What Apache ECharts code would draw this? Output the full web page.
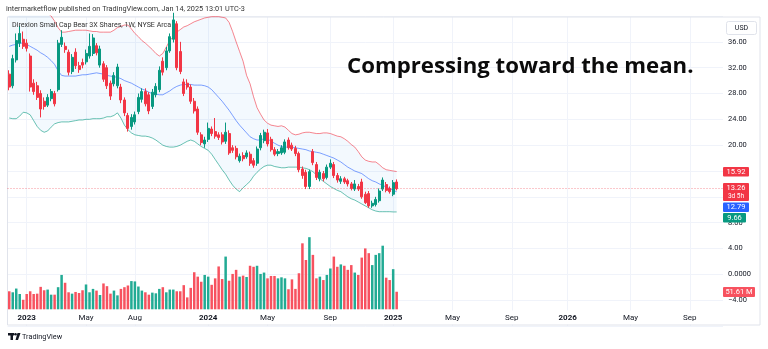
<!DOCTYPE html>
<html>
<head>
<meta charset="utf-8">
<script src="https://cdn.jsdelivr.net/npm/echarts@6/dist/echarts.min.js"></script>
<style>
html,body{margin:0;padding:0;background:#fff;}
#chart{width:768px;height:349px;}
</style>
</head>
<body>
<div id="chart"></div>
<script>
// weekly bars, first bar = week of 2022-11-28, last = week of 2025-01-13
const firstWeek = '2022-11-28'
const slots = 205 // bars + empty space to the right

const opens = [31.0,29.2,33.2,35.8,36.4,35.8,33.8,29.6,29.2,28.0,26.8,26.2,27.2,28.0,28.6,35.6,35.3,34.4,31.4,34.4,
  32.3,32.8,32.9,33.8,34.2,35.4,32.4,32.6,32.0,29.6,29.5,29.2,29.0,27.0,24.6,22.9,23.6,25.2,27.1,28.3,
  27.8,26.0,27.8,28.6,33.0,32.0,34.6,36.4,38.8,34.5,29.8,29.6,29.0,26.8,25.6,21.6,20.2,20.9,22.5,22.1,
  21.6,21.6,20.6,21.8,19.6,19.5,17.6,18.4,18.2,18.6,17.6,17.2,19.6,20.7,21.9,20.9,19.3,18.7,18.8,18.9,
  20.8,20.0,19.5,18.7,16.3,15.8,13.6,19.0,17.0,14.8,15.6,15.0,16.6,17.0,15.3,14.4,14.8,14.5,14.0,13.2,
  13.6,14.3,12.4,12.5,10.6,10.8,11.4,13.2,13.9,13.3,12.4,14.3]
const closes = [29.0,33.4,36.2,37.3,35.3,35.0,29.0,28.3,27.4,25.6,26.0,27.4,28.3,26.4,35.8,36.7,34.8,31.3,33.6,32.3,
  31.7,32.4,34.2,35.3,36.6,34.3,34.9,30.2,29.2,27.6,30.8,32.1,27.0,25.0,22.6,24.3,24.7,27.4,28.3,26.4,
  25.3,28.2,29.1,31.6,31.3,34.6,36.8,39.4,32.0,31.4,28.0,29.0,26.8,25.3,22.0,20.4,20.8,22.6,21.8,21.4,
  21.2,20.5,22.0,18.8,19.2,18.2,18.3,17.9,18.8,17.2,16.9,19.4,21.5,22.0,20.2,19.3,18.6,19.0,19.6,20.5,
  19.6,19.4,18.7,16.2,15.3,13.6,15.9,17.3,15.0,15.8,14.8,16.6,17.2,15.3,14.6,14.8,14.3,14.0,13.3,14.0,
  13.2,12.0,11.1,10.6,11.0,11.6,12.9,14.6,13.0,12.8,14.2,13.26]
const lows = [28.5,28.8,32.8,35.2,34.9,34.5,28.3,27.8,27.0,24.3,25.5,25.9,26.8,26.0,28.3,35.2,34.3,30.8,31.0,31.8,
  31.2,31.9,32.5,33.4,33.8,33.9,32.0,29.8,28.7,27.0,29.1,28.8,26.5,24.5,22.1,22.4,23.2,24.8,26.6,26.0,
  24.8,25.6,27.4,28.2,30.8,31.6,34.3,35.9,31.6,31.0,27.6,28.6,26.4,24.9,21.6,20.0,19.6,20.5,21.4,21.0,
  20.8,20.1,20.2,18.5,18.8,17.8,17.3,17.5,17.9,16.8,16.5,16.8,19.2,20.3,19.8,19.0,18.3,18.3,18.5,18.6,
  19.3,19.1,18.3,15.8,14.8,13.2,13.2,16.9,14.6,14.4,14.4,14.7,16.3,14.9,14.2,14.0,14.0,13.6,13.0,12.9,
  12.9,11.7,10.9,10.3,10.3,10.5,11.1,12.9,12.7,12.5,12.1,13.0]
const highs = [31.6,34.0,37.3,38.5,37.6,36.4,34.2,30.2,29.8,28.5,27.4,27.9,28.7,28.4,36.3,37.8,35.9,34.8,34.1,35.0,
  32.9,33.4,34.8,37.3,37.2,35.8,35.4,33.0,32.4,30.0,31.3,32.6,29.5,27.4,25.0,24.8,25.2,28.0,28.8,28.8,
  28.2,28.7,29.6,32.2,33.6,35.2,37.3,40.5,39.2,36.0,30.3,30.2,29.4,27.3,26.0,22.0,21.3,23.5,22.9,24.2,
  22.0,22.0,23.5,22.3,20.0,19.9,18.7,18.9,19.2,19.0,18.0,19.8,21.9,22.4,22.5,21.3,19.7,19.4,20.0,20.9,
  21.2,20.4,19.9,19.0,16.7,16.2,16.2,19.4,17.4,16.2,16.0,17.0,17.8,17.4,15.7,15.2,15.1,14.8,14.3,14.6,
  14.0,14.8,12.8,12.9,11.4,12.0,13.3,15.0,14.3,13.6,14.6,14.7]
// volume, millions of shares
const volumes = [53,50,61,45,28,45,53,45,46,66,56,58,43,43,65,101,78,50,46,51,
  48,56,73,50,60,55,42,76,68,46,55,41,60,65,70,83,82,67,55,50,
  43,49,47,60,65,50,58,58,53,53,71,35,63,109,96,81,101,96,72,91,
  126,89,155,84,104,116,96,99,95,128,125,128,104,108,91,98,98,91,94,91,
  59,88,60,106,194,145,212,160,91,96,86,101,120,155,125,132,128,116,130,108,
  101,152,179,165,130,160,165,187,93,86,118,51.61]
// Bollinger Bands (20, 2)
const bbUpper = [44,44,44,43.8,43.5,43,42.7,42.3,41.8,41.3,40.8,40.4,40.0,39.2,38.2,37.5,37.5,37.6,37.7,37.8,
  37.8,37.8,37.8,37.7,37.6,37.6,37.5,37.5,37.5,37.5,37.8,38.2,38.4,38.6,38.6,38.0,37.3,36.8,36.2,35.8,
  35.3,34.8,34.2,33.8,34.2,35.2,36.2,36.8,37.5,37.9,38.3,38.5,38.8,39.1,39.3,39.5,39.7,39.8,39.9,39.9,
  39.9,39.8,39.7,39.0,37.6,36.0,34.5,33.0,30.8,29.5,27.5,25.8,24.8,23.9,23.4,23.1,23.0,22.9,23.0,22.8,
  22.3,21.8,21.6,21.7,21.9,22.0,22.0,21.9,21.8,21.8,21.9,21.9,21.8,21.6,21.4,21.3,21.0,20.6,20.1,19.7,
  19.0,18.2,17.7,17.5,17.4,17.4,17.0,16.5,16.2,16.1,16.0,15.92]
const bbBasis = [35.3,35.5,35.6,35.8,35.8,35.6,35.3,35.0,34.7,34.3,34.0,33.6,33.1,32.5,31.5,30.8,30.7,30.7,30.7,30.7,
  30.8,30.9,30.9,31.0,31.1,31.2,31.1,31.0,30.8,30.7,30.6,30.5,30.3,30.0,29.8,29.6,29.3,29.0,28.7,28.5,
  28.2,28.0,27.9,27.8,27.8,28.1,28.4,28.8,29.1,29.3,29.4,29.4,29.4,29.3,29.3,29.3,29.2,29.0,28.6,28.0,
  27.4,26.8,26.1,25.4,24.6,23.8,23.1,22.5,21.9,21.3,21.0,20.8,20.8,21.0,21.0,20.6,20.3,20.0,19.8,19.7,
  19.7,19.7,19.6,19.5,19.4,19.3,19.1,19.0,18.9,18.8,18.6,18.4,18.2,18.0,17.7,17.4,17.0,16.6,16.3,16.0,
  15.8,15.6,15.2,14.8,14.5,14.3,14.0,13.8,13.5,13.3,13.0,12.79]
const bbLower = [24.2,24.1,24.1,24.5,25.1,25.0,24.7,23.8,22.9,22.3,22.0,22.2,22.8,23.3,23.5,23.6,23.6,23.6,23.7,23.8,
  23.9,23.9,24.0,24.0,24.1,24.1,24.1,24.2,24.4,24.4,24.6,25.0,24.2,23.1,22.4,21.9,21.6,21.5,21.4,21.4,
  21.3,21.1,20.8,20.4,20.0,19.8,19.7,19.7,19.8,20.0,20.3,20.6,20.8,20.6,20.2,19.8,19.5,19.2,18.6,17.8,
  17.0,16.2,15.5,14.6,13.8,13.2,12.8,13.4,13.9,14.4,15.2,15.8,16.3,16.7,16.9,16.9,16.7,16.6,16.5,16.5,
  16.6,16.6,16.6,16.6,16.5,16.4,16.2,15.9,15.4,14.8,14.4,14.0,13.6,13.3,13.0,12.8,12.4,12.0,11.7,11.5,
  11.2,10.9,10.6,10.3,10.0,9.8,9.7,9.7,9.7,9.7,9.66,9.66]

// time axis labels (index into the weekly slots)
const tickIdx = [5, 22, 36, 57, 74, 92, 110, 127, 144, 160, 178, 195]
const tickText = ['2023', 'May', 'Aug', '2024', 'May', 'Sep', '2025', 'May', 'Sep', '2026', 'May', 'Sep']

const UP = '#089981'
const DOWN = '#f23645'

const cats = []
const t0 = Date.parse(firstWeek + 'T00:00:00Z')
for (let i = 0; i < slots; i++) {
  cats.push(new Date(t0 + i * 7 * 86400000).toISOString().slice(0, 10))
}

const candles = opens.map((o, i) => [o, closes[i], lows[i], highs[i]])
const volData = volumes.map((v, i) => ({
  value: v,
  itemStyle: { color: closes[i] >= opens[i] ? '#22ab94' : '#f7525f' }
}))
const bandSpan = bbUpper.map((u, i) => +(u - bbLower[i]).toFixed(3))

const isTick = idx => tickIdx.indexOf(idx) >= 0
const FONT = 'Roboto, "Noto Sans", sans-serif'

const chart = echarts.init(document.getElementById('chart'))

function priceLabel (v) {
  if (v === 0) return '0.0000'
  if (v === 40 || v === -8 || v === 16 || v === 12) return ''
  return (v < 0 ? '\u2212' + (-v).toFixed(2) : v.toFixed(2))
}

function box (x, y, w, h, fill, lines) {
  const els = [{
    type: 'rect', z: 100,
    shape: { x: x, y: y, width: w, height: h, r: 1 },
    style: { fill: fill }
  }]
  lines.forEach(l => {
    els.push({
      type: 'text', z: 101,
      style: {
        x: x + w / 2, y: l.y, text: l.text, fill: '#fff',
        font: (l.size || 7.5) + 'px ' + FONT, align: 'center', verticalAlign: 'middle'
      }
    })
  })
  return els
}

chart.setOption({
  animation: false,
  backgroundColor: '#ffffff',
  grid: [
    { left: 7.5, right: 45, top: 16, height: 310 },
    { left: 7.5, right: 45, top: 209.3, height: 100 }
  ],
  xAxis: [
    {
      type: 'category', gridIndex: 0, data: cats,
      axisLine: { show: false }, axisTick: { show: false }, axisLabel: { show: false },
      splitLine: { show: true, interval: isTick, alignWithLabel: true, lineStyle: { color: '#f0f3fa', width: 1 } }
    },
    {
      type: 'category', gridIndex: 1, data: cats, z: 10,
      axisLine: { show: false }, axisTick: { show: false },
      axisLabel: {
        interval: isTick, margin: 5, color: '#131722', fontSize: 8, fontFamily: FONT,
        formatter: (val, idx) => {
          const t = tickText[tickIdx.indexOf(idx)] || ''
          return /^\d{4}$/.test(t) ? '{y|' + t + '}' : t
        },
        rich: { y: { fontWeight: 'bold', fontSize: 8, fontFamily: FONT, color: '#131722' } }
      },
      splitLine: { show: false }
    }
  ],
  yAxis: [
    {
      type: 'value', gridIndex: 0, position: 'right', min: -8, max: 40, interval: 4,
      axisLine: { show: false }, axisTick: { show: false },
      axisLabel: { formatter: priceLabel, margin: 5, align: 'left', color: '#131722', fontSize: 7.5, fontFamily: FONT },
      splitLine: { lineStyle: { color: '#f0f3fa', width: 1 } }
    },
    {
      type: 'value', gridIndex: 1, min: 0, max: 294, show: false, splitLine: { show: false }
    }
  ],
  series: [
    {
      name: 'BB lower', type: 'line', xAxisIndex: 0, yAxisIndex: 0, data: bbLower,
      stack: 'bb', symbol: 'none', z: 2,
      lineStyle: { color: 'rgba(8,153,129,0.6)', width: 1 }
    },
    {
      name: 'BB upper', type: 'line', xAxisIndex: 0, yAxisIndex: 0, data: bandSpan,
      stack: 'bb', symbol: 'none', z: 2,
      lineStyle: { color: 'rgba(242,54,69,0.6)', width: 1 },
      areaStyle: { color: 'rgba(33,150,243,0.08)' }
    },
    {
      name: 'BB basis', type: 'line', xAxisIndex: 0, yAxisIndex: 0, data: bbBasis,
      symbol: 'none', z: 2,
      lineStyle: { color: 'rgba(41,98,255,0.6)', width: 1 }
    },
    {
      name: 'Volume', type: 'bar', xAxisIndex: 1, yAxisIndex: 1, data: volData,
      barWidth: '72%', z: 2
    },
    {
      name: 'TZA', type: 'candlestick', xAxisIndex: 0, yAxisIndex: 0, data: candles,
      barWidth: '72%', z: 3,
      itemStyle: { color: UP, color0: DOWN, borderColor: UP, borderColor0: DOWN, borderWidth: 1 },
      markLine: {
        silent: true, symbol: 'none', label: { show: false },
        lineStyle: { color: 'rgba(242,54,69,0.55)', type: [1, 2], width: 1 },
        data: [{ yAxis: 13.26 }]
      }
    }
  ],
  graphic: [
    // cover below the pane where the time scale sits
    { type: 'rect', z: 1, shape: { x: 7.5, y: 310.5, width: 716, height: 14 }, style: { fill: '#fff' } },
    { type: 'rect', z: 1, shape: { x: 7.5, y: 17, width: 752.5, height: 308 }, style: { fill: 'none', stroke: '#e0e3eb', lineWidth: 1 } },
    { type: 'text', z: 50, style: { x: 6, y: 9, text: 'intermarketflow published on TradingView.com, Jan 14, 2025 13:01 UTC-3', fill: '#333', font: '7.3px ' + FONT, verticalAlign: 'middle' } },
    { type: 'text', z: 50, style: { x: 12, y: 25, text: 'Direxion Small Cap Bear 3X Shares, 1W, NYSE Arca', fill: '#333', font: '7.1px ' + FONT, verticalAlign: 'middle' } },
    { type: 'text', z: 50, style: { x: 347, y: 67, text: 'Compressing toward the mean.', fill: '#0b0b0b', font: 'bold 22.2px "Open Sans", sans-serif', verticalAlign: 'middle' } },
    { type: 'rect', z: 50, shape: { x: 726.5, y: 21.5, width: 30, height: 13, r: 2 }, style: { fill: '#fff', stroke: '#e0e3eb', lineWidth: 1 } },
    { type: 'text', z: 51, style: { x: 741.5, y: 28, text: 'USD', fill: '#131722', font: '7px ' + FONT, align: 'center', verticalAlign: 'middle' } },
    ...box(723, 167, 26, 9.5, '#f23645', [{ text: '15.92', y: 171.8 }]),
    ...box(723, 183, 26, 18, '#f23645', [{ text: '13.26', y: 187.8 }, { text: '3d 5h', y: 196, size: 6.5 }]),
    ...box(723, 202.5, 26, 9.5, '#2962ff', [{ text: '12.79', y: 207.3 }]),
    ...box(723, 213, 23, 9.5, '#089981', [{ text: '9.66', y: 217.8 }]),
    ...box(723, 287, 32, 10, '#f7525f', [{ text: '51.61 M', y: 292 }]),
    // TradingView mark
    { type: 'rect', z: 50, shape: { x: 8, y: 333, width: 6, height: 2.5 }, style: { fill: '#131722' } },
    { type: 'rect', z: 50, shape: { x: 10.5, y: 333, width: 2.5, height: 7 }, style: { fill: '#131722' } },
    { type: 'circle', z: 50, shape: { cx: 15.5, cy: 334.3, r: 1.3 }, style: { fill: '#131722' } },
    { type: 'polygon', z: 50, shape: { points: [[15.5, 340], [17.5, 333], [20.5, 333], [18, 340]] }, style: { fill: '#131722' } },
    { type: 'text', z: 50, style: { x: 22, y: 337, text: 'TradingView', fill: '#131722', font: '7.3px ' + FONT, verticalAlign: 'middle' } }
  ]
})
</script>
</body>
</html>
